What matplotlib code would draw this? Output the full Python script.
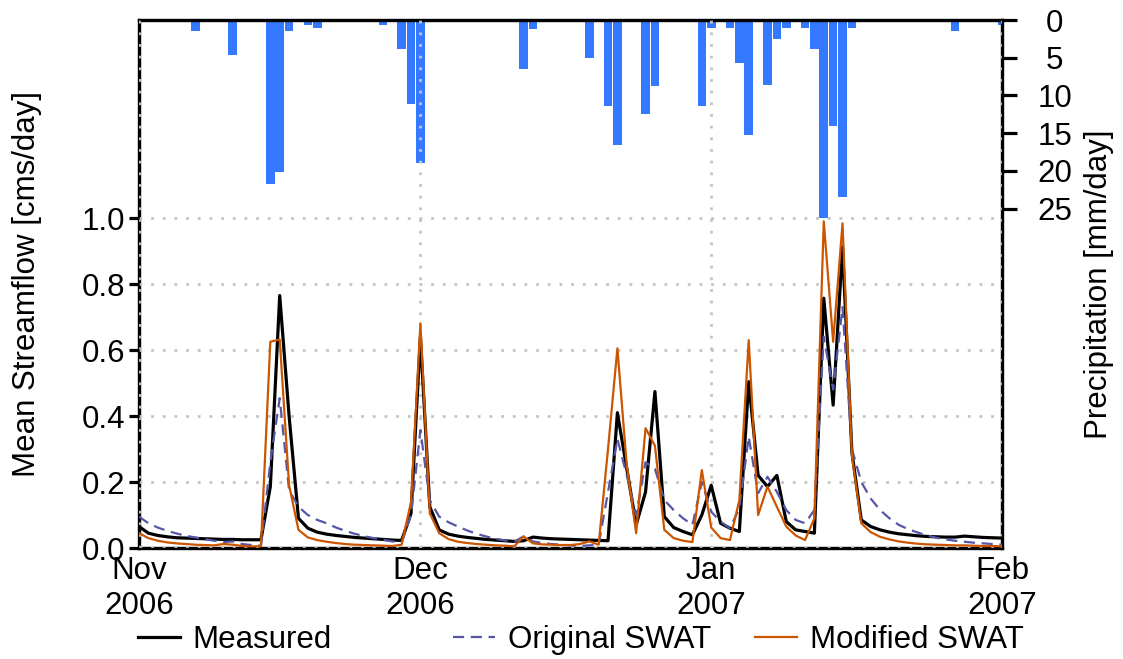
import numpy as np
import matplotlib
matplotlib.use("Agg")
import matplotlib.pyplot as plt
import matplotlib.dates as mdates
from matplotlib.lines import Line2D
import datetime as dt

# ---- data -------------------------------------------------------------
start = dt.date(2006, 11, 1)
n_days = 93  # 1 Nov 2006 .. 1 Feb 2007
days = [start + dt.timedelta(days=i) for i in range(n_days)]

measured = [
    0.065, 0.045, 0.038, 0.034, 0.031, 0.030, 0.029, 0.028, 0.027, 0.026,
    0.026, 0.025, 0.025, 0.025, 0.186, 0.765, 0.400, 0.090, 0.060, 0.048,
    0.042, 0.038, 0.035, 0.032, 0.030, 0.028, 0.026, 0.024, 0.023, 0.105,
    0.640, 0.125, 0.055, 0.042, 0.036, 0.032, 0.029, 0.026, 0.024, 0.022,
    0.020, 0.022, 0.033, 0.030, 0.028, 0.027, 0.026, 0.025, 0.024, 0.023,
    0.022, 0.410, 0.240, 0.070, 0.170, 0.474, 0.095, 0.062, 0.050, 0.040,
    0.100, 0.190, 0.075, 0.060, 0.050, 0.504, 0.220, 0.186, 0.220, 0.080,
    0.055, 0.050, 0.045, 0.757, 0.433, 0.913, 0.290, 0.085, 0.065, 0.055,
    0.048, 0.043, 0.040, 0.037, 0.035, 0.034, 0.033, 0.033, 0.036, 0.034,
    0.032, 0.031, 0.030,
]

original_swat = [
    0.095, 0.075, 0.062, 0.052, 0.044, 0.037, 0.032, 0.027, 0.022, 0.018,
    0.020, 0.012, 0.009, 0.007, 0.260, 0.454, 0.175, 0.125, 0.100, 0.085,
    0.075, 0.062, 0.052, 0.043, 0.036, 0.030, 0.025, 0.020, 0.016, 0.100,
    0.357, 0.145, 0.095, 0.078, 0.065, 0.053, 0.043, 0.035, 0.028, 0.023,
    0.019, 0.035, 0.020, 0.015, 0.012, 0.010, 0.008, 0.006, 0.008, 0.010,
    0.170, 0.330, 0.220, 0.100, 0.260, 0.240, 0.145, 0.115, 0.090, 0.070,
    0.200, 0.110, 0.080, 0.060, 0.120, 0.337, 0.166, 0.216, 0.170, 0.115,
    0.085, 0.075, 0.115, 0.640, 0.480, 0.730, 0.300, 0.200, 0.150, 0.115,
    0.090, 0.070, 0.057, 0.047, 0.038, 0.031, 0.026, 0.022, 0.019, 0.016,
    0.014, 0.012, 0.010,
]

modified_swat = [
    0.045, 0.030, 0.022, 0.017, 0.014, 0.012, 0.010, 0.009, 0.008, 0.012,
    0.010, 0.006, 0.005, 0.005, 0.625, 0.632, 0.190, 0.055, 0.032, 0.024,
    0.019, 0.015, 0.012, 0.010, 0.009, 0.008, 0.007, 0.006, 0.010, 0.140,
    0.681, 0.105, 0.045, 0.027, 0.019, 0.015, 0.012, 0.010, 0.008, 0.007,
    0.005, 0.035, 0.014, 0.011, 0.010, 0.009, 0.009, 0.012, 0.020, 0.010,
    0.300, 0.605, 0.250, 0.045, 0.363, 0.310, 0.055, 0.030, 0.022, 0.018,
    0.236, 0.062, 0.030, 0.024, 0.145, 0.630, 0.100, 0.186, 0.125, 0.065,
    0.038, 0.024, 0.090, 0.990, 0.625, 0.984, 0.280, 0.075, 0.048, 0.034,
    0.026, 0.020, 0.016, 0.013, 0.011, 0.010, 0.009, 0.008, 0.008, 0.007,
    0.006, 0.006, 0.005,
]

# daily rainfall (mm/day) on the days it rained, by day index from 1 Nov 2006
rain_day_index = [0, 5, 6, 7, 10, 12, 14, 15, 16, 18, 19, 26, 28, 29, 30,
                  33, 41, 42, 48, 49, 50, 51, 52, 54, 55, 60, 61, 63, 64,
                  65, 66, 67, 68, 69, 71, 72, 73, 74, 75, 76, 87, 92]
rain_mm = [0.3, 0.3, 1.5, 0.3, 4.7, 0.3, 21.8, 20.1, 1.5, 0.6, 1.0, 0.6,
           3.8, 11.1, 19.0, 0.3, 6.5, 1.2, 5.0, 0.3, 11.4, 16.6, 0.3, 12.4,
           8.7, 11.4, 1.0, 1.0, 5.7, 15.2, 0.3, 8.6, 2.5, 1.0, 1.0, 3.9,
           26.2, 14.1, 23.4, 1.0, 1.5, 0.6]

flow_ticks = [0.0, 0.2, 0.4, 0.6, 0.8, 1.0]
rain_ticks = [0, 5, 10, 15, 20, 25]
month_ticks = [dt.date(2006, 11, 1), dt.date(2006, 12, 1),
               dt.date(2007, 1, 1), dt.date(2007, 2, 1)]
month_labels = ["Nov\n2006", "Dec\n2006", "Jan\n2007", "Feb\n2007"]

# ---- style ------------------------------------------------------------
plt.rcParams["font.family"] = ["Liberation Sans", "DejaVu Sans"]
plt.rcParams["font.size"] = 22.5

c_meas = "#000000"
c_orig = "#5656a8"
c_mod = "#cc5500"
c_rain = "#3479ff"
c_grid = "#c4c4c4"

x = mdates.date2num(days)
rain_x = [x[i] for i in rain_day_index]

fig = plt.figure(figsize=(11.23, 6.59), dpi=100)
ax = fig.add_axes([139 / 1123, 1 - 548 / 659, 863 / 1123, 528 / 659])
ax2 = ax.twinx()

# rainfall bars hang from the top on the inverted right axis
ax2.bar(rain_x, rain_mm, width=0.92, color=c_rain, edgecolor="none", zorder=1)
ax2.set_ylim(70, 0)
ax2.set_yticks(rain_ticks)
ax2.set_yticklabels([str(v) for v in rain_ticks])

# streamflow lines on top of the bars
ax.set_zorder(ax2.get_zorder() + 1)
ax.patch.set_visible(False)
ax.plot(x, measured, color=c_meas, lw=2.3, zorder=3)
ax.plot(x, original_swat, color=c_orig, lw=1.6, ls=(0, (5, 3)), zorder=4)
ax.plot(x, modified_swat, color=c_mod, lw=1.6, zorder=5)

ax.set_xlim(x[0], x[-1])
ax.set_ylim(0, 1.6)
ax.set_yticks(flow_ticks)
ax.set_yticklabels([f"{v:.1f}" for v in flow_ticks])
ax.set_xticks(mdates.date2num(month_ticks))
ax.set_xticklabels(month_labels)

ax.grid(True, color=c_grid, ls=(0, (1, 3.2)), lw=2.0)
ax.set_axisbelow(False)

for a in (ax, ax2):
    for sp in a.spines.values():
        sp.set_linewidth(2.3)
        sp.set_color("black")

ax.tick_params(axis="x", length=0, pad=6)
ax.tick_params(axis="y", direction="out", length=7, width=2.3, pad=3)
ax2.tick_params(axis="y", direction="out", length=11, width=2.3, pad=27)
for t in ax2.get_yticklabels():
    t.set_horizontalalignment("center")

ax.set_ylabel("Mean Streamflow [cms/day]")
ax.yaxis.set_label_coords(-0.1124, 0.5)
ax2.set_ylabel("Precipitation [mm/day]")
ax2.yaxis.set_label_coords(1.0945, 0.5)

# legend entries along the bottom
entries = [
    (Line2D([], [], color=c_meas, lw=2.3), "Measured", 138),
    (Line2D([], [], color=c_orig, lw=1.6, ls=(0, (5, 3))), "Original SWAT", 453),
    (Line2D([], [], color=c_mod, lw=1.6), "Modified SWAT", 755),
]
for handle, label, px in entries:
    fig.legend([handle], [label], loc="center left",
               bbox_to_anchor=(px / 1123, 1 - 640 / 659),
               frameon=False, borderpad=0, borderaxespad=0,
               handlelength=1.35, handletextpad=0.4)

fig.savefig("out.png", dpi=100)
